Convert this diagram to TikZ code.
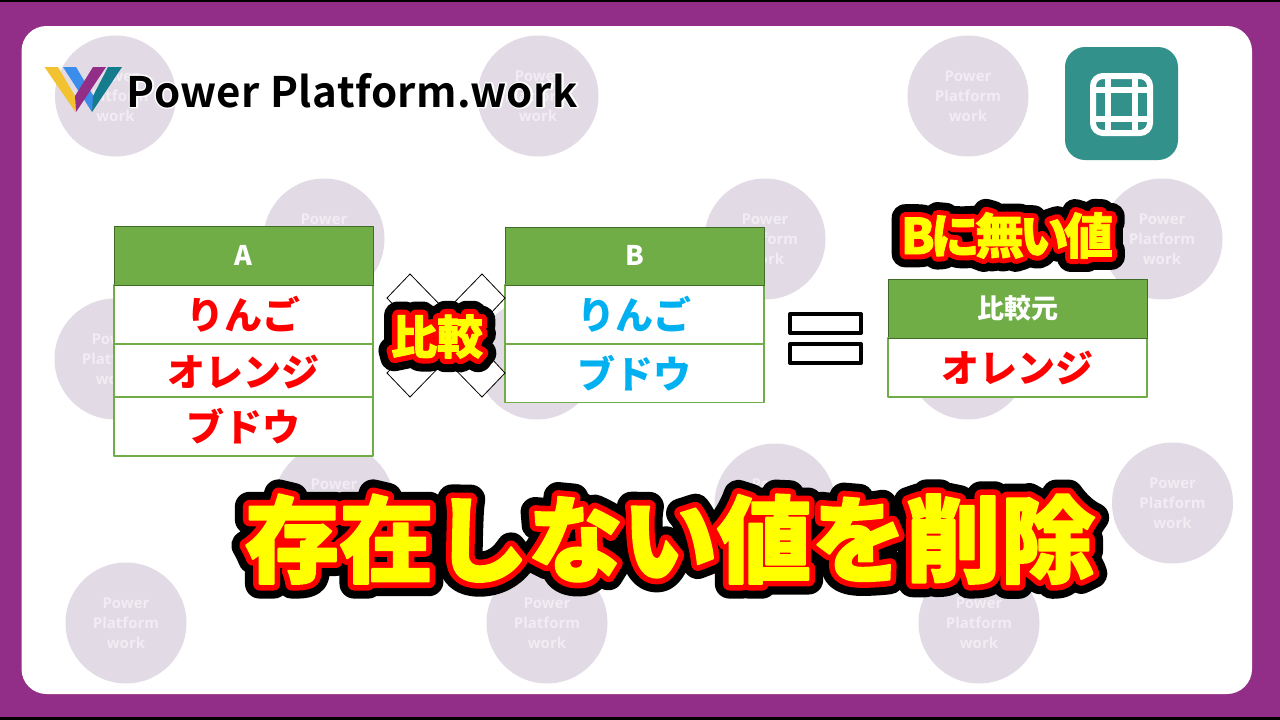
\documentclass[tikz,border=0pt]{standalone}
\usepackage{fontspec}
\newfontfamily\tk[FakeBold=31]{Noto Sans CJK JP Black}
\newfontfamily\tr[FakeBold=14]{Noto Sans CJK JP Black}
\newfontfamily\ty[FakeBold=2]{Noto Sans CJK JP Black}
\newfontfamily\lk[FakeBold=60]{Noto Sans CJK JP Black}
\newfontfamily\lr[FakeBold=25]{Noto Sans CJK JP Black}
\newfontfamily\ly[FakeBold=2]{Noto Sans CJK JP Black}
\newfontfamily\nk[FakeBold=54,LetterSpace=-9]{Noto Sans CJK JP Black}
\newfontfamily\nr[FakeBold=22,LetterSpace=-9]{Noto Sans CJK JP Black}
\newfontfamily\ny[FakeBold=1.5,LetterSpace=-9]{Noto Sans CJK JP Black}
\newfontfamily\jb{Noto Sans CJK JP Black}
\newfontfamily\wmf{Open Sans}
\newfontfamily\logow[FakeBold=7,LetterSpace=1.3]{Noto Sans CJK JP Bold}
\newfontfamily\logof[LetterSpace=1.3]{Noto Sans CJK JP Bold}
\definecolor{purpbg}{HTML}{932E88}
\definecolor{wmcircle}{HTML}{E2DBE6}
\definecolor{wmtext}{HTML}{F1EDF3}
\definecolor{tgreen}{HTML}{70AD47}
\definecolor{tdark}{HTML}{3F6B28}
\definecolor{iconteal}{HTML}{33918B}
\definecolor{cellblue}{HTML}{00B0F0}
\definecolor{pureyellow}{HTML}{FFFF00}
\definecolor{logoyellow}{HTML}{F2C230}
\definecolor{logoblue}{HTML}{3B8DEB}
\definecolor{logoteal}{HTML}{157C8E}
\tikzset{
  txt/.style={inner sep=0pt,outer sep=0pt,anchor=base},
  wmdisc/.style={circle,fill=wmcircle,minimum size=121pt,inner sep=0pt,text=wmtext,align=center,
    font=\wmf\bfseries\fontsize{15}{20}\selectfont},
  headcell/.style={draw=tdark,fill=tgreen,line width=1pt,minimum width=259pt,minimum height=#1,inner sep=0pt},
  bodycell/.style={draw=tgreen,fill=white,line width=1.2pt,minimum width=259pt,minimum height=#1,inner sep=0pt},
  eqbar/.style={draw=black,fill=white,line width=4pt,minimum width=71pt,minimum height=19pt,inner sep=0pt},
  icoline/.style={draw=white,line width=6pt},
}
\newcommand{\wmark}[3]{\node[wmdisc] (#1) at (#2,#3) {Power\\Platform\\work};}
\newcommand{\outl}[8]{% name x y size text fonts
  \node[txt,text=black] (#1k) at (#2,#3) {#6\fontsize{#4}{#4}\selectfont #5};
  \node[txt,text=red] (#1r) at (#2,#3) {#7\fontsize{#4}{#4}\selectfont #5};
  \node[txt,text=pureyellow] (#1y) at (#2,#3) {#8\fontsize{#4}{#4}\selectfont #5};}
\newcommand{\celltxt}[5]{\node[txt,text=#4] (#1) at (#2,#3) {\jb\fontsize{38}{38}\selectfont #5};}
\begin{document}
\begin{tikzpicture}[x=1pt,y=-1pt,line join=round]
\useasboundingbox (0,0) rectangle (1280,720);
\fill[black] (0,0) rectangle (1280,720);
\fill[purpbg] (0,2) rectangle (1280,717);
\fill[white,rounded corners=25pt] (21.5,26) rectangle (1252,694);
% watermarks
\wmark{w1}{115.5}{96}\wmark{w2}{538}{96}\wmark{w3}{968}{96}
\wmark{w4}{324}{239}\wmark{w5}{765}{239}\wmark{w6}{1162}{239}
\wmark{w7}{115}{359}\wmark{w8}{537}{359}\wmark{w9}{968}{359}
\wmark{w10}{334}{504}\wmark{w11}{775}{504}\wmark{w12}{1172.5}{503}
\wmark{w13}{126}{623}\wmark{w14}{547}{623}\wmark{w15}{979}{623}
% logo
\fill[logoyellow] (44.5,67)--(58,67)--(75,96)--(75.5,112)--cycle;
\fill[logoblue] (63,67)--(76,67)--(94,97)--(92,112)--cycle;
\fill[logoteal] (108,67)--(122,67)--(92,112)--(93,96)--cycle;
\fill[purpbg] (93,67)--(106,67)--(76,112)--(75,96)--cycle;
\node[txt,anchor=base west,text=white] (logohalo) at (126.5,107) {\logow\fontsize{42}{42}\selectfont Power Platform.work};
\node[txt,anchor=base west,text=black] (logotext) at (126.5,107) {\logof\fontsize{42}{42}\selectfont Power Platform.work};
% icon
\fill[iconteal,rounded corners=20pt] (1065,47) rectangle (1178,160);
\draw[icoline,rounded corners=10pt] (1093,76) rectangle (1150,133);
\draw[icoline] (1108,76)--(1108,133) (1135,76)--(1135,133) (1093,90)--(1150,90) (1093,119)--(1150,119);
% table A
\node[headcell=59pt] (ah) at (243.5,255.5) {};
\node[bodycell=59pt] (a1) at (243.5,314.5) {};
\node[bodycell=53pt] (a2) at (243.5,370.5) {};
\node[bodycell=59pt] (a3) at (243.5,426.5) {};
\draw[tdark,line width=1pt] (ah.south west)--(ah.south east);
\node[txt,text=white] (aht) at (243.5,265) {\jb\fontsize{27}{27}\selectfont A};
\celltxt{a1t}{243.5}{329}{red}{りんご}
\celltxt{a2t}{243.5}{386}{red}{オレンジ}
\celltxt{a3t}{243.5}{441}{red}{ブドウ}
% table B
\node[headcell=58pt] (bh) at (634.5,256) {};
\node[bodycell=59pt] (b1) at (634.5,314.5) {};
\node[bodycell=58pt] (b2) at (634.5,373.5) {};
\draw[tdark,line width=1pt] (bh.south west)--(bh.south east);
\node[txt,text=white] (bht) at (634.5,265) {\jb\fontsize{27}{27}\selectfont B};
\celltxt{b1t}{634.5}{329}{cellblue}{りんご}
\celltxt{b2t}{634.5}{388}{cellblue}{ブドウ}
% table C
\node[headcell=59pt] (ch) at (1017.5,308.5) {};
\node[bodycell=59pt] (c1) at (1017.5,367.5) {};
\draw[tdark,line width=1pt] (ch.south west)--(ch.south east);
\node[txt,text=white] (cht) at (1017.5,318) {\jb\fontsize{27}{27}\selectfont 比較元};
\celltxt{c1t}{1017.5}{382}{red}{オレンジ}
% equals
\node[eqbar] (eq1) at (825.5,323.5) {};
\node[eqbar] (eq2) at (825.5,353.5) {};
% cross
\draw[black,fill=white,line width=.8pt,line join=miter] (410,274)--(446,311)--(482,274)--(505,298)--(470,335.5)--(505,373)--(482,397)--(446,360)--(410,397)--(387,373)--(422,335.5)--(387,298)--cycle;
% labels
\outl{cmp}{437}{354}{46}{比較}{\lk}{\lr}{\ly}
\outl{nob}{1007}{254}{49}{Bに無い値}{\nk}{\nr}{\ny}
\outl{main}{670}{575}{94.5}{存在しない値を削除}{\tk}{\tr}{\ty}
\end{tikzpicture}
\end{document}
